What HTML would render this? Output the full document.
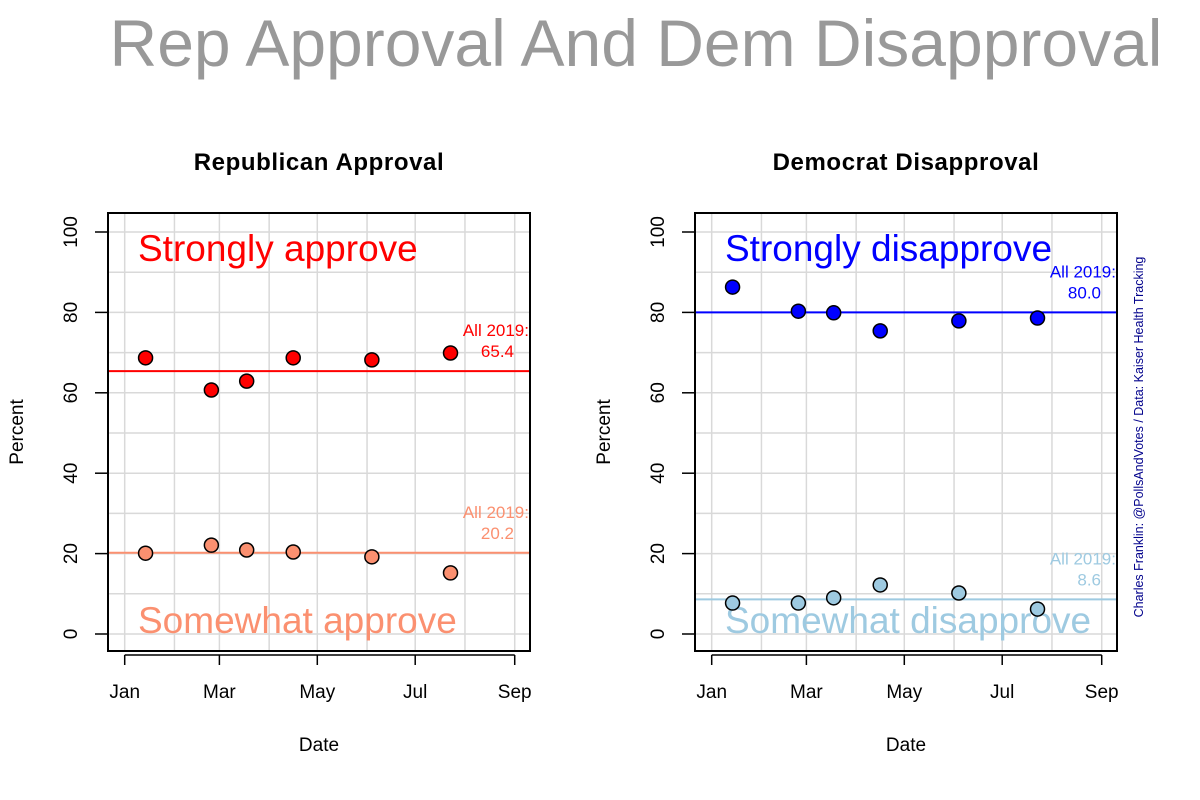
<!DOCTYPE html>
<html><head><meta charset="utf-8"><style>
body{margin:0;background:#fff;}
svg{display:block;font-family:"Liberation Sans",Arial,sans-serif;}
</style></head><body>
<svg id="chart" width="1200" height="800">
<text x="636" y="66" font-size="66" fill="#999" text-anchor="middle">Rep Approval And Dem Disapproval</text>
<text transform="translate(1143,437) rotate(-90)" font-size="12.5" fill="#00008B" text-anchor="middle">Charles Franklin: @PollsAndVotes / Data: Kaiser Health Tracking</text>
</svg>
<script>
const days = [13, 54, 76, 105, 154, 203];
const repStrong = [68.7, 60.7, 62.9, 68.7, 68.2, 69.9];
const repSome = [20.1, 22.1, 20.9, 20.4, 19.2, 15.2];
const demStrong = [86.3, 80.3, 79.9, 75.4, 77.9, 78.6];
const demSome = [7.7, 7.7, 9.0, 12.2, 10.2, 6.2];
const avgRep = [65.4, 20.2];
const avgDem = [80.0, 8.6];
const yTicks = [0, 20, 40, 60, 80, 100];
const xTickLabels = ["Jan", "Mar", "May", "Jul", "Sep"];
const xTickDays = [0, 59, 120, 181, 243];
const gridDays = [0, 31, 59, 90, 120, 151, 181, 212, 243];

const svg = document.getElementById('chart');
const NS = 'http://www.w3.org/2000/svg';
function mk(tag, attrs, parent) {
  const e = document.createElementNS(NS, tag);
  for (const k in attrs) e.setAttribute(k, attrs[k]);
  (parent || svg).appendChild(e);
  return e;
}

function panel(ox, title, titleName, s1, s2, avg, c1, c2, lab1, lab2, prefix) {
  const L = 108 + ox, R = 530 + ox, T = 213, B = 651;
  const x = d => 124.7 + ox + d * 1.605;
  const y = v => 634 - v * 4.02;
  const g = mk('g', {});
  
  
  for (let v = 0; v <= 100; v += 10) {
    const l = mk('line', {x1: L, x2: R, y1: y(v), y2: y(v), stroke: '#d9d9d9', 'stroke-width': 1.5}, g);
    
    
  }
  gridDays.forEach(d => {
    const l = mk('line', {x1: x(d), x2: x(d), y1: T, y2: B, stroke: '#d9d9d9', 'stroke-width': 1.5}, g);
    
    
  });
  const t = mk('text', {x: (L + R) / 2, y: 170, 'font-size': 24, 'font-weight': 'bold', 'text-anchor': 'middle', 'letter-spacing': 0.6}, g);
  t.textContent = title;
  
  
  const l1 = mk('text', {x: L + 30, y: 261, 'font-size': 37, fill: c1}, g);
  l1.textContent = lab1;
  
  
  const l2 = mk('text', {x: L + 30, y: 633, 'font-size': 37, fill: c2}, g);
  l2.textContent = lab2;
  
  
  [[avg[0], c1, 'strong'], [avg[1], c2, 'somewhat']].forEach(([a, c, nm]) => {
    const ln = mk('line', {x1: L, x2: R, y1: y(a), y2: y(a), stroke: c, 'stroke-width': 2}, g);
    
    
    const t1 = mk('text', {x: R - 1, y: y(a) - 35, 'font-size': 17, fill: c, 'text-anchor': 'end'}, g);
    t1.textContent = 'All 2019:';
    
    
    const t2 = mk('text', {x: R - 16, y: y(a) - 14, 'font-size': 17, fill: c, 'text-anchor': 'end'}, g);
    t2.textContent = a.toFixed(1);
    
    
  });
  [[s1, c1, 'strong'], [s2, c2, 'somewhat']].forEach(([s, c, nm]) => {
    s.forEach((v, i) => {
      const p = mk('circle', {cx: x(days[i]), cy: y(v), r: 7, fill: c, stroke: '#000', 'stroke-width': 1.5}, g);
      
      
    });
  });
  const box = mk('rect', {x: L, y: T, width: R - L, height: B - T, fill: 'none', stroke: '#000', 'stroke-width': 2}, g);
  
  
  yTicks.forEach(v => {
    const tk = mk('line', {x1: L - 13, x2: L, y1: y(v), y2: y(v), stroke: '#000', 'stroke-width': 1.5}, g);
    
    
    const tl = mk('text', {transform: `translate(${L - 31},${y(v)}) rotate(-90)`, 'font-size': 19, 'text-anchor': 'middle'}, g);
    tl.textContent = v;
    
    
  });
  const xa = mk('line', {x1: x(0), x2: x(243), y1: 655, y2: 655, stroke: '#000', 'stroke-width': 1.5}, g);
  
  
  xTickDays.forEach((d, i) => {
    const tk = mk('line', {x1: x(d), x2: x(d), y1: 655, y2: 665, stroke: '#000', 'stroke-width': 1.5}, g);
    
    
    const tl = mk('text', {x: x(d), y: 698, 'font-size': 19, 'text-anchor': 'middle'}, g);
    tl.textContent = xTickLabels[i];
    
    
  });
  const xt = mk('text', {x: (L + R) / 2, y: 751, 'font-size': 19, 'text-anchor': 'middle'}, g);
  xt.textContent = 'Date';
  
  
  const yt = mk('text', {transform: `translate(${L - 85},${(T + B) / 2}) rotate(-90)`, 'font-size': 19, 'text-anchor': 'middle'}, g);
  yt.textContent = 'Percent';
  
  
}
panel(0, 'Republican Approval', 'rep-panel-title', repStrong, repSome, avgRep, '#ff0000', '#fb9070', 'Strongly approve', 'Somewhat approve', 'rep');
panel(587, 'Democrat Disapproval', 'dem-panel-title', demStrong, demSome, avgDem, '#0000ff', '#9ecae1', 'Strongly disapprove', 'Somewhat disapprove', 'dem');
</script>
</body></html>
